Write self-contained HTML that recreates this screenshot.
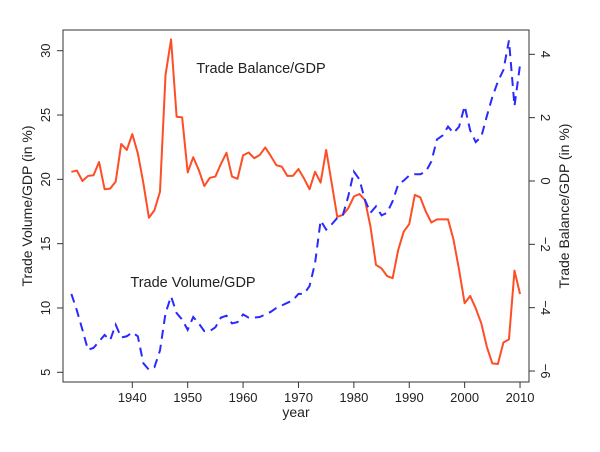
<!DOCTYPE html>
<html><head><meta charset="utf-8"><style>
body{margin:0;background:#fff}
svg{display:block;font-family:"Liberation Sans",sans-serif}
</style></head><body>
<svg id="chart" width="600" height="452" viewBox="0 0 600 452" xmlns="http://www.w3.org/2000/svg">
<g id="axes"></g>
<text x="261" y="73" font-size="14.5" text-anchor="middle" fill="#222">Trade Balance/GDP</text>
<text x="193" y="287" font-size="14.5" text-anchor="middle" fill="#222">Trade Volume/GDP</text>
<text x="296" y="417" font-size="14" text-anchor="middle" fill="#222">year</text>
<text transform="translate(32,206) rotate(-90)" font-size="14" text-anchor="middle" fill="#222">Trade Volume/GDP (in %)</text>
<text transform="translate(569,206) rotate(-90)" font-size="14" text-anchor="middle" fill="#222">Trade Balance/GDP (in %)</text>
</svg>
<script>
const years = [];for(let y=1929;y<=2010;y++)years.push(y);
const tradeBalance = [0.29,0.33,0.0,0.16,0.18,0.6,-0.26,-0.24,-0.02,1.17,0.98,1.48,0.87,-0.07,-1.16,-0.92,-0.34,3.35,4.47,2.03,2.01,0.27,0.75,0.35,-0.16,0.1,0.14,0.54,0.89,0.14,0.07,0.81,0.9,0.72,0.82,1.06,0.79,0.5,0.45,0.16,0.16,0.38,0.08,-0.26,0.29,-0.05,0.98,-0.07,-1.13,-1.07,-0.86,-0.49,-0.41,-0.6,-1.44,-2.65,-2.76,-3.0,-3.07,-2.18,-1.6,-1.36,-0.44,-0.52,-0.97,-1.31,-1.21,-1.21,-1.21,-1.86,-2.81,-3.86,-3.63,-4.02,-4.49,-5.23,-5.76,-5.78,-5.1,-5.0,-2.83,-3.57];
const tradeVolume = [11.09,9.8,8.3,6.74,6.9,7.4,7.9,7.5,8.7,7.7,7.8,8.1,7.8,5.7,5.2,5.4,6.7,9.6,10.9,9.6,9.1,8.3,9.3,8.8,8.2,8.2,8.5,9.25,9.4,8.8,8.9,9.5,9.25,9.25,9.3,9.5,9.7,10.0,10.2,10.4,10.6,11.1,11.1,11.7,13.5,16.8,16.1,16.5,17.0,17.2,18.7,20.6,20.0,18.4,17.4,17.9,17.2,17.4,18.3,19.6,19.9,20.3,20.4,20.4,20.6,21.4,23.1,23.4,24.1,23.6,24.1,25.7,23.8,22.9,23.3,24.9,26.4,27.6,28.5,30.8,25.7,28.9];
const xTicks = [1940,1950,1960,1970,1980,1990,2000,2010];
const leftTicks = [5,10,15,20,25,30];
const rightTicks = [-6,-4,-2,0,2,4];

const X = y => 132.3 + (y-1940)*5.539;
const YL = v => 372.3 - (v-5)*12.864;
const YR = v => 181 - v*31.67;
const NS='http://www.w3.org/2000/svg';
const g=document.getElementById('axes');
function mk(tag,attrs,parent){const e=document.createElementNS(NS,tag);for(const k in attrs)e.setAttribute(k,attrs[k]);(parent||g).appendChild(e);return e;}

const box=mk('rect',{x:63,y:30,width:466,height:352,fill:'none',stroke:'#333','stroke-width':1});



xTicks.forEach(t=>{
  const x=X(t);
  const l=mk('line',{x1:x,x2:x,y1:382,y2:388,stroke:'#333'});
  
  
  const tx=mk('text',{x:x,y:402,'font-size':13,'text-anchor':'middle',fill:'#222'});
  
  
  tx.textContent=t;
});
leftTicks.forEach(t=>{
  const y=YL(t);
  const l=mk('line',{x1:57,x2:63,y1:y,y2:y,stroke:'#333'});
  
  
  const tx=mk('text',{transform:`translate(50,${y}) rotate(-90)`,'font-size':13,'text-anchor':'middle',fill:'#222'});
  
  
  tx.textContent=t;
});
rightTicks.forEach(t=>{
  const y=YR(t);
  const l=mk('line',{x1:529,x2:535,y1:y,y2:y,stroke:'#333'});
  
  
  const tx=mk('text',{transform:`translate(541,${y}) rotate(90)`,'font-size':13,'text-anchor':'middle',fill:'#222'});
  
  
  tx.textContent=t<0?'\u2212'+(-t):t;
});

const pb=mk('polyline',{points:years.map((y,i)=>X(y)+','+YR(tradeBalance[i])).join(' '),fill:'none',stroke:'#ff4d26','stroke-width':2,'stroke-linejoin':'round'});


const pv=mk('polyline',{points:years.map((y,i)=>X(y)+','+YL(tradeVolume[i])).join(' '),fill:'none',stroke:'#2a2aff','stroke-width':2,'stroke-dasharray':'9,6'});


</script>
</body></html>
